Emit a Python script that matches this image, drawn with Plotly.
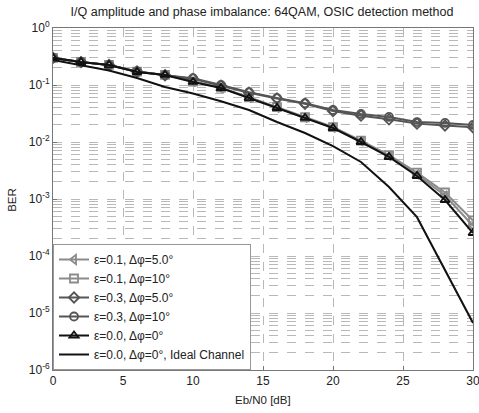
import plotly.graph_objects as go

ebn0 = [0, 2, 4, 6, 8, 10, 12, 14, 16, 18, 20, 22, 24, 26, 28, 30]

ber_e01_p5 = [0.298, 0.252, 0.224, 0.170, 0.150, 0.114, 0.089, 0.060, 0.040, 0.0268, 0.0179, 0.0103, 0.0057, 0.0027, 0.00115, 0.00034]
ber_e01_p10 = [0.299, 0.253, 0.225, 0.171, 0.151, 0.115, 0.090, 0.061, 0.041, 0.0272, 0.0183, 0.0106, 0.0059, 0.0029, 0.0013, 0.00042]
ber_e03_p5 = [0.299, 0.252, 0.224, 0.172, 0.148, 0.128, 0.097, 0.073, 0.058, 0.047, 0.035, 0.029, 0.025, 0.021, 0.0195, 0.0182]
ber_e03_p10 = [0.300, 0.253, 0.225, 0.173, 0.149, 0.132, 0.100, 0.075, 0.059, 0.048, 0.0364, 0.031, 0.0275, 0.0224, 0.0216, 0.0199]
ber_e00_p0 = [0.298, 0.253, 0.224, 0.169, 0.150, 0.113, 0.0886, 0.059, 0.0395, 0.0264, 0.0176, 0.0100, 0.00546, 0.00253, 0.00096, 0.000253]
ber_ideal = [0.275, 0.224, 0.180, 0.133, 0.092, 0.071, 0.052, 0.0364, 0.0224, 0.0144, 0.0085, 0.00446, 0.00162, 0.00048, 0.000055, 0.0000067]

names = [
    "ε=0.1, Δφ=5.0°",
    "ε=0.1, Δφ=10°",
    "ε=0.3, Δφ=5.0°",
    "ε=0.3, Δφ=10°",
    "ε=0.0, Δφ=0°",
    "ε=0.0, Δφ=0°, Ideal Channel",
]

y_tickvals = [1, 0.1, 0.01, 0.001, 1e-4, 1e-5, 1e-6]
y_ticktext = ["10<sup>0</sup>", "10<sup>-1</sup>", "10<sup>-2</sup>", "10<sup>-3</sup>",
              "10<sup>-4</sup>", "10<sup>-5</sup>", "10<sup>-6</sup>"]
x_tickvals = [0, 5, 10, 15, 20, 25, 30]

title_text = "I/Q amplitude and phase imbalance: 64QAM, OSIC detection method"
x_title = "Eb/N0 [dB]"
y_title = "BER"

minor_vals = [m * 10 ** e for e in range(-6, 0) for m in range(2, 10)]

series = [
    (ber_e01_p5, "triangle-left-open", "#8a8a8a"),
    (ber_e01_p10, "square-open", "#8a8a8a"),
    (ber_e03_p5, "diamond-open", "#555555"),
    (ber_e03_p10, "circle-open", "#555555"),
    (ber_e00_p0, "triangle-up-open", "#111111"),
]

fig = go.Figure()
for (vals, sym, col), nm in zip(series, names[:5]):
    fig.add_trace(go.Scatter(
        x=ebn0, y=vals, name=nm, mode="lines+markers",
        line=dict(color=col, width=2),
        marker=dict(symbol=sym, size=8, color=col, line=dict(color=col, width=1.8)),
    ))
fig.add_trace(go.Scatter(
    x=ebn0, y=ber_ideal, name=names[5], mode="lines",
    line=dict(color="#111111", width=2),
))

grid_col = "#b8b8b8"
fig.update_layout(
    width=479, height=413,
    margin=dict(l=53, r=6, t=28, b=43),
    paper_bgcolor="white", plot_bgcolor="white",
    font=dict(family="Liberation Sans, Arial, sans-serif", size=11.5, color="#222222"),
    title=dict(text=title_text, x=0.547, xanchor="center", y=0.971, yanchor="middle",
               font=dict(size=12.5, color="#222222")),
    showlegend=True,
    legend=dict(x=0, y=0, xanchor="left", yanchor="bottom",
                bgcolor="white", bordercolor="#999999", borderwidth=1,
                font=dict(size=12), tracegroupgap=0,
                itemwidth=30),
    xaxis=dict(range=[0, 30], tickvals=x_tickvals, showgrid=True, automargin=False,
               gridcolor=grid_col, griddash="dash", gridwidth=1,
               showline=True, linecolor="#777777", mirror=True,
               ticks="inside", ticklen=4, tickcolor="#777777",
               zeroline=False, ticklabeloverflow="allow",
               tickfont=dict(size=12)),
    yaxis=dict(type="log", range=[-6, 0], tickvals=y_tickvals, ticktext=y_ticktext,
               automargin=False,
               showgrid=True, gridcolor=grid_col, griddash="dash", gridwidth=1,
               minor=dict(tickvals=minor_vals, showgrid=True, gridcolor=grid_col,
                          griddash="dash", gridwidth=1),
               showline=True, linecolor="#777777", mirror=True,
               ticks="inside", ticklen=4, tickcolor="#777777",
               ticklabeloverflow="allow", tickfont=dict(size=12)),
    annotations=[
        dict(text=x_title, xref="paper", yref="paper", x=0.5, y=-0.088,
             xanchor="center", yanchor="middle", showarrow=False,
             font=dict(size=11.5)),
        dict(text=y_title, xref="paper", yref="paper", x=-0.098, y=0.497,
             xanchor="center", yanchor="middle", showarrow=False, textangle=-90,
             font=dict(size=11.5)),
    ],
)

fig.write_html("out.html",
               config={"displayModeBar": False},
               post_script="document.body.style.margin='0';document.body.style.overflow='hidden';")
